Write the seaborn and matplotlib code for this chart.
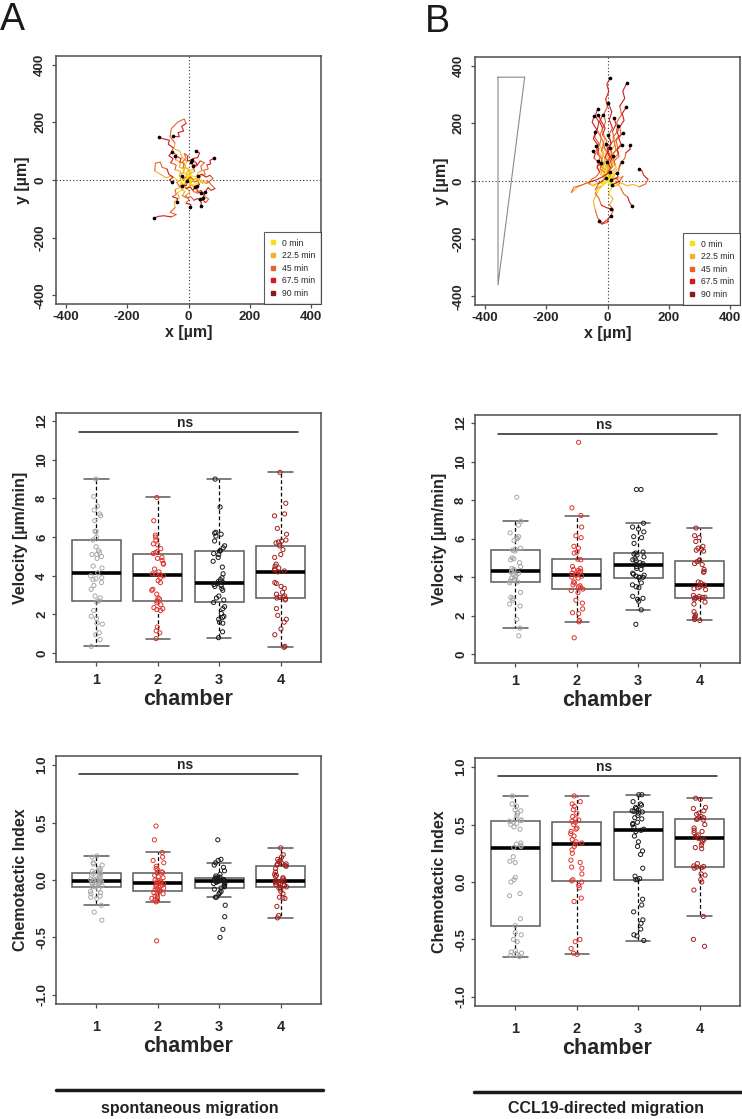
import numpy as np
import pandas as pd
import matplotlib
matplotlib.use('Agg')
import matplotlib.pyplot as plt
from matplotlib.lines import Line2D
import seaborn as sns

# --- data ---------------------------------------------------------------

time_labels = ['0 min', '22.5 min', '45 min', '67.5 min', '90 min']
time_colors = ['#F2E21C', '#F4B02A', '#E6622C', '#D41A1E', '#8A1A1A']

# cell tracks, spontaneous migration (x, y in µm), start at origin
tracks_spont = [
    [(0, 0), (-8, 6), (-4, 18), (-18, 24), (-14, 38), (-30, 44), (-26, 60), (-42, 70), (-38, 88), (-56, 96), (-50, 112), (-66, 124), (-62, 138), (-80, 142), (-96, 148)],
    [(4, -4), (-2, 12), (10, 22), (2, 38), (-12, 46), (-6, 64), (-22, 80), (-28, 100), (-48, 108), (-44, 128), (-60, 150), (-56, 178), (-36, 200), (-14, 212), (-8, 196), (-22, 186), (-16, 170), (-34, 164), (-30, 150), (-49, 151)],
    [(-2, 2), (-12, -4), (-16, 10), (-30, 14), (-26, 30), (-44, 36), (-40, 52), (-58, 60), (-50, 74), (-64, 84), (-54, 96)],
    [(0, -2), (-14, 4), (-24, -6), (-40, 2), (-56, 14), (-74, 8), (-92, 20), (-110, 32), (-108, 58), (-92, 62), (-86, 44), (-70, 38), (-64, 20), (-50, 10), (-62, 0), (-54, -8)],
    [(2, 0), (12, -8), (22, 4), (34, -2), (40, 14), (54, 18), (50, 34), (64, 38), (60, 52), (72, 56), (70, 68), (82, 75)],
    [(0, 2), (-6, 14), (4, 26), (-4, 40), (-18, 44), (-14, 58), (-28, 62), (-24, 74), (-43, 84)],
    [(1, 1), (10, 10), (6, 24), (20, 30), (16, 44), (28, 50), (24, 62), (8, 64)],
    [(0, 0), (14, -6), (22, 6), (38, 0), (46, -12), (62, -4), (76, -18), (86, -30), (74, -36), (64, -26), (54, -43)],
    [(0, 0), (8, -14), (22, -18), (26, -34), (42, -40), (54, -58), (66, -66), (56, -78), (46, -70), (38, -66)],
    [(0, 0), (-10, -12), (-24, -10), (-30, -26), (-44, -34), (-40, -50), (-52, -58), (-36, -64), (-38, -77)],
    [(0, 0), (6, -16), (-6, -28), (4, -42), (-10, -54), (2, -68), (-8, -80), (8, -86), (5, -95)],
    [(0, 0), (-12, -16), (-20, -34), (-36, -44), (-30, -62), (-46, -76), (-44, -96), (-60, -112), (-40, -120), (-56, -128), (-80, -124), (-98, -126), (-112, -132)],
    [(0, 0), (12, 14), (26, 10), (30, 26), (44, 32), (40, 48), (52, 60), (38, 66), (30, 54), (16, 50)],
    [(0, 0), (10, 6), (18, -6), (30, -4), (36, -16), (27, -20)],
    [(0, 0), (-8, 10), (-18, 4), (-22, 15)],
    [(0, 0), (8, -8), (16, 2), (6, 10), (-5, -2)],
    [(0, 0), (-10, -6), (-6, -18), (-22, -20)],
    [(0, 0), (14, -20), (30, -26), (28, -40), (40, -45)],
    [(0, 0), (-6, 20), (-16, 30), (-10, 48), (-20, 62), (-8, 76), (-14, 92), (-2, 84), (-4, 66), (10, 70)],
    [(0, 0), (-10, 8), (-4, 20), (-20, 26), (-30, 14), (-24, 2), (-38, -8), (-30, -22), (-14, -16), (-8, -30), (6, -24), (14, -36), (22, -24)],
    [(0, 0), (12, 4), (20, -10), (34, -14), (44, -2), (58, -12), (70, -4), (80, 6), (70, 16), (56, 10), (44, 20), (30, 14)],
    [(0, 0), (6, 12), (-8, 18), (-2, 32), (14, 36), (20, 50), (8, 58), (14, 74), (30, 78), (36, 94), (26, 100)],
    [(0, 0), (-6, -10), (-20, -12), (-26, -28), (-12, -40), (-20, -54), (-6, -62), (8, -58), (18, -70), (30, -64), (42, -78), (40, -90)],
    [(0, 0), (10, -4), (6, -18), (20, -24), (16, -40), (30, -46), (40, -36), (52, -50), (46, -64)],
]

# cell tracks, CCL19-directed migration
tracks_ccl19 = [
    [(0, 0), (-8, 20), (2, 44), (-10, 70), (-4, 98), (-16, 124), (-8, 150), (-18, 176), (-6, 204), (-12, 232), (0, 258), (-6, 284), (4, 310), (-2, 336), (9, 358)],
    [(2, 0), (10, 24), (4, 50), (16, 76), (10, 102), (24, 126), (18, 152), (36, 176), (30, 204), (46, 230), (40, 260), (56, 286), (50, 312), (63, 339)],
    [(0, 0), (12, 20), (8, 46), (22, 66), (18, 92), (34, 112), (28, 140), (44, 162), (40, 188), (54, 210), (48, 234), (61, 256)],
    [(0, 0), (-10, 22), (-4, 48), (-18, 72), (-12, 98), (-26, 124), (-20, 150), (-34, 176), (-28, 204), (-40, 226), (-32, 250)],
    [(0, 2), (-12, 18), (-8, 42), (-22, 60), (-18, 86), (-34, 104), (-28, 130), (-42, 152), (-36, 180), (-50, 204), (-43, 226)],
    [(0, 0), (6, 24), (-4, 50), (8, 76), (0, 104), (12, 130), (4, 158), (16, 184), (6, 212), (14, 240), (2, 272)],
    [(0, 0), (-6, 22), (6, 46), (0, 72), (14, 96), (8, 122), (22, 146), (16, 172), (28, 196), (21, 220)],
    [(0, 0), (10, 18), (4, 42), (18, 62), (12, 88), (28, 108), (22, 134), (36, 156), (30, 176), (34, 191)],
    [(0, 0), (-8, 20), (4, 40), (-4, 64), (10, 86), (0, 110), (12, 132), (3, 158)],
    [(0, 0), (-12, 14), (-8, 36), (-22, 52), (-18, 76), (-32, 94), (-28, 112), (-37, 123)],
    [(0, 0), (-14, 10), (-20, 30), (-34, 44), (-30, 64), (-44, 80), (-40, 94), (-48, 104)],
    [(0, 0), (8, 18), (-2, 38), (6, 60), (-8, 82), (2, 104), (-4, 129)],
    [(0, 0), (-6, 20), (6, 38), (-2, 60), (10, 80), (0, 98), (7, 115)],
    [(0, 0), (14, 12), (22, 32), (36, 44), (42, 64), (56, 78), (60, 98), (74, 110), (72, 124)],
    [(0, 0), (12, 18), (8, 40), (24, 56), (20, 78), (36, 94), (32, 112), (47, 124)],
    [(0, 0), (10, 16), (4, 34), (16, 50), (10, 68), (17, 86)],
    [(0, 0), (-12, 12), (-10, 30), (-24, 42), (-20, 58), (-32, 70)],
    [(0, 0), (8, 14), (0, 30), (10, 46), (-1, 65)],
    [(0, 0), (16, 8), (24, 24), (36, 34), (40, 52), (47, 65)],
    [(0, 0), (12, -6), (22, 8), (34, 14), (31, 28)],
    [(0, 0), (20, -10), (40, -4), (62, -16), (84, -12), (104, -20), (124, -10), (132, 6), (118, 20), (112, 36), (103, 42)],
    [(0, 0), (16, -14), (30, -8), (44, -26), (52, -44), (66, -56), (72, -74), (80, -86)],
    [(0, 0), (-14, -14), (-30, -20), (-40, -42), (-28, -60), (-20, -84), (-4, -92), (12, -98)],
    [(0, 0), (-20, -18), (-34, -40), (-46, -70), (-40, -100), (-32, -128), (-14, -148), (-2, -144), (4, -130), (10, -121)],
    [(0, 0), (-20, -6), (-44, -12), (-70, -8), (-96, -20), (-118, -40), (-110, -22), (-84, -14), (-60, -4), (-36, 4), (-14, 16), (7, 30)],
    [(0, 0), (-20, -20), (-40, -30), (-30, -10), (-5, 10)],
    [(0, 0), (20, -20), (40, -10), (30, 10), (10, 5)],
    [(0, 0), (30, 6), (50, 16), (40, 0), (15, -13)],
    [(0, 0), (-4, 26), (-14, 50), (-8, 78), (-20, 104), (-12, 130), (-24, 158), (-16, 184), (-26, 206), (-15, 230)],
    [(0, 0), (10, 10), (-2, 28), (8, 50), (-6, 70), (4, 94), (-10, 116), (-2, 140), (-16, 160), (-8, 184), (-20, 206), (-30, 228)],
    [(0, 0), (-10, 14), (-22, 22), (-16, 44), (-30, 60), (-24, 84), (-38, 100), (-32, 126), (-46, 146), (-40, 170)],
    [(0, 0), (18, 12), (12, 32), (28, 46), (22, 70), (38, 86), (30, 108), (44, 128), (36, 150), (50, 166)],
    [(0, 0), (-16, -10), (-30, -4), (-46, -18), (-60, -10), (-52, 6), (-38, 14), (-26, 30), (-34, 50), (-20, 64)],
    [(0, 0), (14, -22), (4, -44), (18, -62), (6, -82), (20, -100), (10, -122), (-6, -138), (-18, -150), (-28, -140)],
]

# gradient wedge drawn in panel B
wedge_x = [-357, -270, -357, -357]
wedge_y = [360, 360, -360, 360]

chambers = ['1', '2', '3', '4']
point_colors = ['#A8A8A8', '#E0342E', '#1A1A1A', '#A3201E']

vel_spont = [
    [0.35, 0.7, 0.95, 1.05, 1.5, 1.55, 1.8, 1.9, 2.2, 2.65, 2.7, 2.85, 2.95, 3.3, 3.5, 3.65, 3.8, 3.85, 3.9, 4.0,
     4.15, 4.4, 4.5, 4.9, 5.0, 5.1, 5.1, 5.2, 5.3, 5.5, 5.85, 6.0, 6.3, 6.3, 6.85, 7.1, 7.2, 7.4, 7.6, 8.1, 9.0],
    [0.75, 1.05, 1.15, 1.35, 2.2, 2.25, 2.3, 2.35, 2.5, 2.6, 2.7, 2.8, 2.85, 3.05, 3.25, 3.3, 3.65, 3.75, 3.9, 4.0,
     4.05, 4.1, 4.1, 4.2, 4.35, 4.6, 4.65, 4.8, 4.9, 4.95, 5.15, 5.2, 5.25, 5.4, 5.6, 5.65, 5.85, 6.0, 6.1, 6.85, 8.05],
    [0.8, 1.1, 1.55, 1.6, 1.75, 1.85, 1.9, 2.05, 2.3, 2.4, 2.62, 2.75, 2.85, 2.95, 3.25, 3.35, 3.45, 3.5, 3.55, 3.6,
     3.65, 3.7, 3.8, 3.9, 4.1, 4.45, 4.75, 4.95, 5.1, 5.15, 5.28, 5.3, 5.45, 5.55, 5.8, 6.05, 6.15, 6.2, 6.25, 7.55, 9.0],
    [0.3, 0.35, 0.95, 1.25, 1.6, 1.75, 1.95, 2.3, 2.75, 2.8, 2.85, 2.88, 2.9, 2.95, 3.05, 3.15, 3.35, 3.45, 3.6, 3.65,
     4.2, 4.25, 4.3, 4.35, 4.4, 4.5, 4.6, 4.95, 5.1, 5.35, 5.55, 5.7, 5.75, 5.8, 5.85, 6.15, 6.45, 7.1, 7.2, 7.75, 9.35],
]

vel_ccl19 = [
    [0.95, 1.35, 1.8, 2.5, 2.6, 2.8, 2.9, 2.95, 3.2, 3.7, 3.75, 3.8, 3.85, 3.9, 3.95, 4.0, 4.1, 4.15, 4.2, 4.25,
     4.3, 4.35, 4.4, 4.45, 4.55, 4.75, 4.9, 4.95, 5.0, 5.35, 5.4, 5.45, 5.5, 5.9, 6.0, 6.05, 6.1, 6.3, 6.7, 6.9, 8.15],
    [0.85, 1.68, 1.75, 2.1, 2.15, 2.35, 2.65, 2.8, 3.2, 3.3, 3.38, 3.45, 3.5, 3.55, 3.6, 3.7, 3.75, 3.95, 4.0, 4.05,
     4.1, 4.15, 4.2, 4.25, 4.3, 4.35, 4.4, 4.45, 4.55, 4.9, 4.93, 5.25, 5.3, 5.5, 5.6, 6.05, 6.15, 6.6, 7.2, 7.6, 11.0],
    [1.55, 2.3, 2.75, 2.85, 2.9, 3.0, 3.45, 3.5, 3.6, 3.7, 3.98, 3.99, 4.0, 4.05, 4.1, 4.15, 4.2, 4.4, 4.45, 4.55,
     4.62, 4.65, 4.7, 4.75, 4.85, 4.9, 4.95, 5.05, 5.15, 5.2, 5.25, 5.3, 5.75, 6.05, 6.1, 6.35, 6.5, 6.6, 6.8, 8.55, 8.55],
    [1.75, 1.8, 1.9, 1.95, 2.05, 2.2, 2.6, 2.7, 2.85, 2.9, 2.92, 2.93, 2.95, 2.95, 3.0, 3.05, 3.35, 3.4, 3.45, 3.5,
     3.58, 3.6, 3.7, 3.75, 4.25, 4.3, 4.4, 4.65, 4.7, 4.8, 4.85, 4.9, 5.35, 5.4, 5.45, 5.5, 5.6, 5.85, 6.05, 6.15, 6.55],
]

ci_spont = [
    [-0.35, -0.28, -0.22, -0.16, -0.15, -0.14, -0.12, -0.11, -0.1, -0.08, -0.06, -0.055, -0.05, -0.04, -0.035, -0.03,
     -0.025, -0.02, -0.015, -0.01, -0.005, 0.0, 0.0, 0.005, 0.01, 0.02, 0.03, 0.04, 0.05, 0.055, 0.06, 0.07, 0.075,
     0.08, 0.09, 0.1, 0.13, 0.14, 0.15, 0.2, 0.21],
    [-0.53, -0.19, -0.18, -0.17, -0.16, -0.15, -0.14, -0.13, -0.12, -0.11, -0.1, -0.09, -0.085, -0.08, -0.07, -0.06,
     -0.05, -0.045, -0.04, -0.035, -0.03, -0.025, -0.02, -0.015, -0.01, 0.0, 0.02, 0.03, 0.04, 0.06, 0.065, 0.07,
     0.09, 0.1, 0.12, 0.15, 0.17, 0.2, 0.24, 0.35, 0.47],
    [-0.5, -0.43, -0.32, -0.22, -0.15, -0.15, -0.12, -0.11, -0.1, -0.08, -0.07, -0.06, -0.055, -0.05, -0.04, -0.03,
     -0.03, -0.02, -0.02, -0.015, -0.01, -0.008, -0.005, -0.005, 0.0, 0.0, 0.005, 0.01, 0.01, 0.015, 0.02, 0.025,
     0.035, 0.05, 0.08, 0.11, 0.13, 0.15, 0.17, 0.18, 0.35],
    [-0.33, -0.31, -0.23, -0.16, -0.155, -0.15, -0.12, -0.1, -0.08, -0.07, -0.065, -0.06, -0.05, -0.045, -0.04, -0.035,
     -0.03, -0.025, -0.02, -0.015, -0.01, 0.0, 0.01, 0.02, 0.03, 0.04, 0.05, 0.07, 0.1, 0.12, 0.125, 0.13, 0.14,
     0.14, 0.15, 0.16, 0.17, 0.18, 0.2, 0.22, 0.28],
]

ci_ccl19 = [
    [-0.65, -0.64, -0.63, -0.62, -0.61, -0.6, -0.52, -0.5, -0.46, -0.44, -0.38, -0.32, -0.12, -0.1, 0.0, 0.02, 0.04,
     0.17, 0.18, 0.22, 0.3, 0.31, 0.32, 0.33, 0.34, 0.46, 0.48, 0.5, 0.51, 0.52, 0.53, 0.535, 0.54, 0.55, 0.58, 0.6,
     0.62, 0.63, 0.66, 0.68, 0.75],
    [-0.63, -0.62, -0.58, -0.52, -0.5, -0.17, -0.14, -0.05, -0.03, 0.0, 0.01, 0.02, 0.07, 0.12, 0.13, 0.17, 0.19,
     0.25, 0.28, 0.31, 0.33, 0.34, 0.35, 0.37, 0.4, 0.42, 0.44, 0.46, 0.47, 0.5, 0.52, 0.53, 0.54, 0.55, 0.57, 0.6,
     0.63, 0.66, 0.68, 0.7, 0.75],
    [-0.51, -0.47, -0.46, -0.41, -0.36, -0.33, -0.26, -0.2, -0.15, 0.02, 0.02, 0.03, 0.05, 0.12, 0.24, 0.27, 0.31,
     0.35, 0.4, 0.44, 0.45, 0.46, 0.48, 0.5, 0.51, 0.52, 0.55, 0.56, 0.58, 0.6, 0.61, 0.615, 0.62, 0.63, 0.64, 0.65,
     0.67, 0.68, 0.7, 0.76, 0.76],
    [-0.56, -0.5, -0.3, -0.07, 0.0, 0.02, 0.06, 0.07, 0.12, 0.125, 0.13, 0.135, 0.14, 0.16, 0.29, 0.3, 0.32, 0.34,
     0.36, 0.37, 0.38, 0.39, 0.4, 0.41, 0.43, 0.44, 0.45, 0.47, 0.5, 0.54, 0.545, 0.55, 0.56, 0.57, 0.59, 0.6, 0.62,
     0.64, 0.65, 0.72, 0.73],
]

# --- style ------------------------------------------------------------------
sns.set_theme(style='white')
plt.rcParams['font.family'] = ['Liberation Sans', 'DejaVu Sans']
np.random.seed(7)

FRAME = '#4d4d4d'


def track_frame(tracks):
    # split every track into time bins (0-22.5, 22.5-45, 45-67.5, 67.5-90 min)
    rows = []
    seg = 0
    for tr in tracks:
        n = len(tr)
        prev = None
        for i in range(n - 1):
            b = min(int(((i + 0.5) / (n - 1) * 90) // 22.5), 3)
            if b != prev:
                seg += 1
                rows.append((seg, time_labels[b], tr[i][0], tr[i][1]))
                prev = b
            rows.append((seg, time_labels[b], tr[i + 1][0], tr[i + 1][1]))
    return pd.DataFrame(rows, columns=['seg', 'time', 'x', 'y'])


def style_axes(ax):
    for s in ax.spines.values():
        s.set_visible(True)
        s.set_color(FRAME)
        s.set_linewidth(1.1)
    ax.tick_params(direction='out', length=3.2, width=0.9, color=FRAME,
                   bottom=True, left=True)


def track_panel(ax, tracks, wedge=False):
    df = track_frame(tracks)
    ax.axhline(0, color='#333333', ls=(0, (1, 2)), lw=0.8, zorder=0)
    ax.axvline(0, color='#333333', ls=(0, (1, 2)), lw=0.8, zorder=0)
    sns.lineplot(data=df, x='x', y='y', units='seg', estimator=None, sort=False,
                 hue='time', hue_order=time_labels[:4], palette=time_colors[:4],
                 lw=0.8, legend=False, ax=ax)
    ends = pd.DataFrame({'x': [t[-1][0] for t in tracks], 'y': [t[-1][1] for t in tracks]})
    sns.scatterplot(data=ends, x='x', y='y', color='black', s=7, linewidth=0, ax=ax, zorder=5)
    if wedge:
        ax.plot(wedge_x, wedge_y, color='#8a8a8a', lw=0.8)
    ax.set_xlim(-432, 432)
    ax.set_ylim(-430, 430)
    ticks = [-400, -200, 0, 200, 400]
    ax.set_xticks(ticks, [str(t) for t in ticks], fontsize=9.5, fontweight='bold')
    ax.set_yticks(ticks, [str(t) for t in ticks], fontsize=9.5, fontweight='bold',
                  rotation=90, va='center')
    style_axes(ax)
    ax.tick_params(axis='x', pad=2)
    ax.tick_params(axis='y', pad=4)
    ax.set_xlabel('x [µm]', fontsize=11.5, fontweight='bold', labelpad=1)
    ax.set_ylabel('y [µm]', fontsize=11.5, fontweight='bold', labelpad=3)
    handles = [Line2D([], [], marker='s', ls='none', color=c, markersize=3.3) for c in time_colors]
    leg = ax.legend(handles, time_labels, loc='lower right', borderaxespad=0, frameon=True,
                    fancybox=False, edgecolor='#333333', fontsize=6.2, handlelength=0.7,
                    handletextpad=0.6, labelspacing=0.42, borderpad=0.7)
    leg.get_frame().set_linewidth(0.8)


def box_panel(ax, groups, ylim, yticks, ylabel, ns_y, xpad):
    df = pd.DataFrame({'chamber': np.repeat(chambers, [len(g) for g in groups]),
                       'value': np.concatenate(groups)})
    sns.boxplot(data=df, x='chamber', y='value', order=chambers, width=0.8, whis=1.5,
                showfliers=False, color='white', linecolor='#5a5a5a', linewidth=1.1,
                medianprops=dict(color='black', linewidth=2.6),
                whiskerprops=dict(color='black', linestyle=(0, (3, 2)), linewidth=0.9),
                capprops=dict(color='#5a5a5a', linewidth=1.1), ax=ax)
    sns.stripplot(data=df, x='chamber', y='value', order=chambers, hue='chamber',
                  hue_order=chambers, palette=dict(zip(chambers, point_colors)),
                  jitter=0.1, size=3, legend=False, ax=ax)
    for coll in ax.collections:
        fc = coll.get_facecolors()
        coll.set_edgecolors(fc)
        coll.set_facecolors('none')
        coll.set_linewidth(0.7)
        coll.set_zorder(4)
    ax.plot([-0.28, 3.28], [ns_y, ns_y], color='#222222', lw=1.1)
    span = ylim[1] - ylim[0]
    ax.text(1.45, ns_y + span * 0.008, 'ns', ha='center', va='bottom', fontsize=10,
            fontweight='bold')
    ax.set_xlim(-0.66, 3.66)
    ax.set_ylim(*ylim)
    ax.set_xticks(range(4), chambers, fontsize=10.5, fontweight='bold')
    ax.set_yticks(yticks, [f'{t:g}' if isinstance(t, int) else f'{t:.1f}' for t in yticks],
                  fontsize=9.5, fontweight='bold', rotation=90, va='center')
    style_axes(ax)
    ax.tick_params(axis='x', pad=xpad)
    ax.tick_params(axis='y', pad=2.5)
    ax.set_xlabel('chamber', fontsize=15.5, fontweight='bold', labelpad=1.5)
    ax.set_ylabel(ylabel, fontsize=11.5, fontweight='bold', labelpad=6)


W, H = 742, 1119
fig = plt.figure(figsize=(W / 100, H / 100), dpi=100)


def add_ax(l, r, t, b):
    return fig.add_axes([l / W, 1 - b / H, (r - l) / W, (b - t) / H])


ax_a1 = add_ax(56, 321, 56, 304)
ax_b1 = add_ax(475, 740, 57, 305)
ax_a2 = add_ax(56, 321, 413, 662)
ax_b2 = add_ax(475, 740, 415, 663)
ax_a3 = add_ax(56, 321, 756, 1004)
ax_b3 = add_ax(475, 740, 758, 1006)

track_panel(ax_a1, tracks_spont)
track_panel(ax_b1, tracks_ccl19, wedge=True)

vel_ticks = [0, 2, 4, 6, 8, 10, 12]
ci_ticks = [-1.0, -0.5, 0.0, 0.5, 1.0]
box_panel(ax_a2, vel_spont, (-0.46, 12.42), vel_ticks, 'Velocity [µm/min]', 11.45, 4.5)
box_panel(ax_b2, vel_ccl19, (-0.46, 12.42), vel_ticks, 'Velocity [µm/min]', 11.45, 4.5)
box_panel(ax_a3, ci_spont, (-1.08, 1.08), ci_ticks, 'Chemotactic Index', 0.92, 8.5)
box_panel(ax_b3, ci_ccl19, (-1.08, 1.08), ci_ticks, 'Chemotactic Index', 0.92, 8.5)

# panel letters
fig.text(0 / W, 1 - 30 / H, 'A', fontsize=27, va='baseline', ha='left', color='#1a1a1a')
fig.text(425 / W, 1 - 32 / H, 'B', fontsize=27, va='baseline', ha='left', color='#1a1a1a')

# condition bars underneath
fig.add_artist(Line2D([56 / W, 323 / W], [1 - 1090 / H] * 2, transform=fig.transFigure,
                      color='#1a1a1a', lw=2.5))
fig.add_artist(Line2D([474 / W, 742 / W], [1 - 1092 / H] * 2, transform=fig.transFigure,
                      color='#1a1a1a', lw=2.5))
fig.text(190 / W, 1 - 1108 / H, 'spontaneous migration', ha='center', va='center',
         fontsize=11.5, fontweight='bold', color='#222222')
fig.text(606 / W, 1 - 1109 / H, 'CCL19-directed migration', ha='center', va='center',
         fontsize=11.5, fontweight='bold', color='#222222')

fig.savefig('out.png', dpi=100)
